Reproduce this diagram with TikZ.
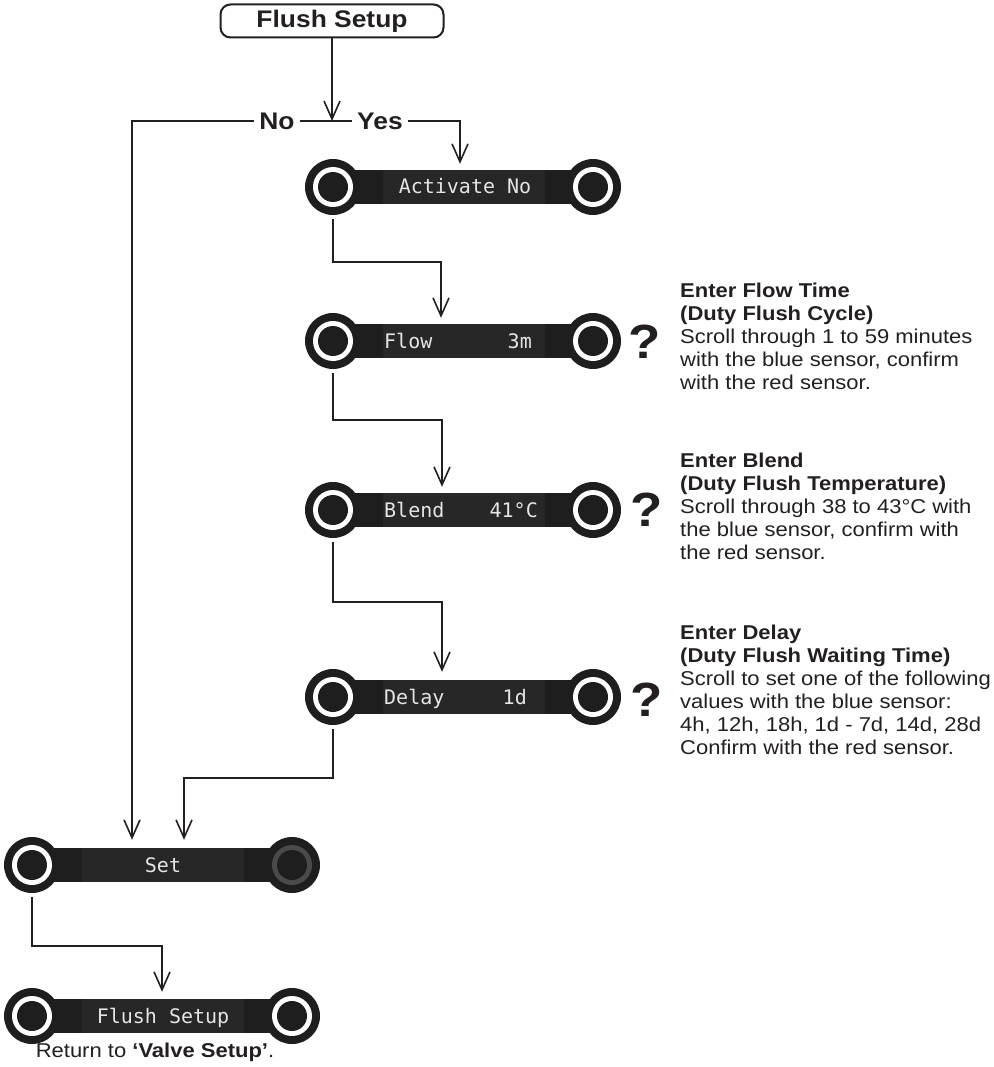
\documentclass[tikz,border=0pt]{standalone}
\usepackage{fontspec}
\setmainfont{Liberation Sans}[FakeStretch=1.1]
\newfontfamily\dmono{DejaVu Sans Mono}
\usetikzlibrary{arrows.meta}
\definecolor{barc}{HTML}{1E1E1E}
\definecolor{scrc}{HTML}{272727}
\definecolor{ringg}{HTML}{4A4A4A}
\definecolor{ink}{HTML}{231F20}
\tikzset{
 conn/.style={draw=ink, line width=2pt},
 arr/.style={conn, -{Straight Barb[length=18pt,width=16pt,line width=1.6pt]}, shorten >=6pt},
 knob/.style={circle, fill=barc, minimum size=56pt, inner sep=0pt,
   path picture={\fill[#1] (path picture bounding box.center) circle (20pt);
                 \fill[barc] (path picture bounding box.center) circle (15pt);}},
 screen/.style={rectangle, fill=scrc, minimum width=162pt, minimum height=34pt, inner sep=0pt},
 scrtxt/.style={inner sep=0pt, text=white!90!black, font=\dmono\fontsize{20}{20}\selectfont},
 titlebox/.style={draw=ink, line width=2pt, rounded corners=10pt, minimum width=223pt, minimum height=33pt, inner sep=0pt, text=ink, font=\bfseries\fontsize{24}{24}\selectfont},
 lbl/.style={font=\bfseries\fontsize{24}{24}\selectfont, text=ink, inner sep=5pt},
 qmark/.style={font=\bfseries\fontsize{48}{48}\selectfont, text=ink, inner sep=0pt},
 info/.style={anchor=north west, align=left, inner sep=0pt, text=ink, font=\fontsize{20}{23}\selectfont}
}
\newcommand{\mkpanel}[4]{%
 \fill[barc] (#2,#3-17) rectangle (#2+260,#3+17);
 \node[knob=white] (#1l) at (#2,#3) {};
 \node[knob=#4] (#1r) at (#2+260,#3) {};
 \node[screen] (#1) at (#2+131,#3) {};
}
\begin{document}
\begin{tikzpicture}[x=1pt,y=-1pt]
\useasboundingbox (0,0) rectangle (993,1067);

% panels
\mkpanel{act}{333}{187}{white}
\mkpanel{flow}{333}{341}{white}
\mkpanel{blend}{333}{510}{white}
\mkpanel{delay}{333}{697}{white}
\mkpanel{set}{32}{865}{ringg}
\mkpanel{fs}{32}{1016}{white}

% screen texts
\node[scrtxt, anchor=base] (actt) at (465,194) {Activate No};
\node[scrtxt, anchor=base west] (flowa) at (384,348) {Flow};
\node[scrtxt, anchor=base east] (flowb) at (532,348) {3m};
\node[scrtxt, anchor=base west] (blenda) at (384,517) {Blend};
\node[scrtxt, anchor=base east] (blendb) at (538,517) {41°C};
\node[scrtxt, anchor=base west] (delaya) at (384,704) {Delay};
\node[scrtxt, anchor=base east] (delayb) at (527,704) {1d};
\node[scrtxt, anchor=base] (sett) at (163,872) {Set};
\node[scrtxt, anchor=base] (fst) at (163,1023) {Flush Setup};

% title and branch
\node[titlebox] (title) at (332,21) {Flush Setup};
\coordinate (j0) at (332,121);
\node[lbl] (no) at (277,121) {No};
\node[lbl] (yes) at (380,121) {Yes};
\coordinate (nc) at (132,121);
\coordinate (yc) at (460,121);
\draw[arr, shorten >=0pt] (title) -- (j0);
\draw[conn] (no) -- (yes);
\draw[arr] (yes) -- (yc) -- (yc |- act.north);
\draw[arr, shorten >=8pt] (no) -- (nc) -- (nc |- set.north);

% chain connectors
\coordinate (b1) at (441,262);
\coordinate (b2) at (442,420);
\coordinate (b3) at (442,602);
\coordinate (b4) at (184,778);
\coordinate (b5) at (162,946);
\draw[arr, shorten <=4pt] (actl.south) -- (actl.south |- b1) -- (b1) -- (b1 |- flow.north);
\draw[arr, shorten <=4pt] (flowl.south) -- (flowl.south |- b2) -- (b2) -- (b2 |- blend.north);
\draw[arr, shorten <=4pt, shorten >=8pt] (blendl.south) -- (blendl.south |- b3) -- (b3) -- (b3 |- delay.north);
\draw[arr, shorten <=4pt, shorten >=8pt] (delayl.south) -- (delayl.south |- b4) -- (b4) -- (b4 |- set.north);
\draw[arr, shorten <=4pt, shorten >=7pt] (setl.south) -- (setl.south |- b5) -- (b5) -- (b5 |- fs.north);

% question marks
\node[qmark] (q1) at (645,342) {?};
\node[qmark] (q2) at (647,510) {?};
\node[qmark] (q3) at (647,700) {?};

% info texts
\node[info] (i1) at (680,283) {\textbf{Enter Flow Time}\\ \textbf{(Duty Flush Cycle)}\\ Scroll through 1 to 59 minutes\\ with the blue sensor, confirm\\ with the red sensor.};
\node[info] (i2) at (680,453) {\textbf{Enter Blend}\\ \textbf{(Duty Flush Temperature)}\\ Scroll through 38 to 43°C with\\ the blue sensor, confirm with\\ the red sensor.};
\node[info] (i3) at (680,625) {\textbf{Enter Delay}\\ \textbf{(Duty Flush Waiting Time)}\\ Scroll to set one of the following\\ values with the blue sensor:\\ 4h, 12h, 18h, 1d - 7d, 14d, 28d\\ Confirm with the red sensor.};

% return note
\node[anchor=base, inner sep=0pt, text=ink, font=\fontsize{20}{20}\selectfont] (ret) at (155,1057) {Return to \textbf{‘Valve Setup’}.};
\end{tikzpicture}
\end{document}
